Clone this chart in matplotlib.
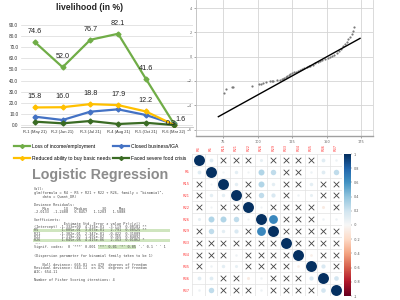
import matplotlib
matplotlib.use("Agg")
import matplotlib.pyplot as plt
from matplotlib.lines import Line2D
from matplotlib.patches import Rectangle
import numpy as np

NARROW = ['Liberation Sans', 'DejaVu Sans']
MONO = ['DejaVu Sans Mono']

# --- livelihood line chart ---
rounds = ["R-1 (May 21)", "R-2 (Jun 21)", "R-3 (Jul 21)", "R-4 (Aug 21)", "R-5 (Oct 21)", "R-6 (Mar 22)"]
loss_income = [74.6, 52.0, 76.7, 82.1, 41.6, 1.6]
closed_business = [7.5, 4.5, 12.0, 14.1, 9.0, 0.9]
basic_needs = [15.8, 16.0, 18.8, 17.9, 12.2, 0.3]
food_crisis = [3.0, 1.5, 3.6, 0.9, 2.0, 0.0]

# --- QQ plot ---
qq_x = [75.7, 77.2, 81.3, 82.5, 95.8, 101.3, 102.5, 104.2, 106.0, 109.0, 110.5, 111.5,
        114.0, 116.0, 117.5, 118.5, 119.5, 120.5, 121.5, 122.5, 123.6, 125.0, 126.5,
        128.0, 129.5, 130.8, 132.5, 134.0, 135.5, 137.0, 138.0, 140.0, 142.0, 144.0,
        145.3, 147.0, 149.0, 151.0, 152.5, 154.0, 155.5, 157.3, 159.0, 160.5, 162.2,
        163.5, 165.0, 165.8, 167.0, 168.3, 169.3, 170.2]
qq_y = [-2.97, -2.69, -2.53, -2.50, -2.39, -2.25, -2.22, -2.14, -2.10, -2.03, -2.00, -1.97,
        -1.92, -1.88, -1.86, -1.80, -1.74, -1.66, -1.58, -1.50, -1.42, -1.36, -1.30,
        -1.22, -1.15, -1.08, -1.00, -0.93, -0.86, -0.80, -0.75, -0.65, -0.55, -0.45,
        -0.39, -0.30, -0.20, -0.10, -0.03, 0.08, 0.18, 0.31, 0.45, 0.60, 0.86,
        1.05, 1.25, 1.42, 1.60, 1.83, 2.10, 2.47]
qq_line_x = [71.6, 174.3]
qq_line_y = [-4.94, 1.51]

# --- correlation matrix (None = not significant, drawn as X) ---
vars_ = ["R4", "R5", "R15", "R21", "R22", "R26", "R29", "R33", "R34", "R35", "R36", "R37"]
N = None
corr = [
    [1.0, 0.12, N, N, N, 0.08, N, N, N, N, 0.12, 0.05],
    [0.12, 1.0, 0.04, 0.10, 0.04, 0.30, 0.25, N, N, 0.05, 0.12, 0.25],
    [N, 0.04, 1.0, 0.10, N, 0.30, 0.10, N, N, 0.10, N, N],
    [N, 0.10, 0.10, 1.0, N, 0.25, 0.15, N, 0.05, 0.08, N, N],
    [N, 0.04, N, N, 1.0, 0.04, N, N, N, N, -0.08, N],
    [0.08, 0.30, 0.30, 0.25, 0.04, 1.0, 0.65, N, N, N, 0.05, 0.05],
    [N, 0.25, 0.10, 0.15, N, 0.65, 1.0, N, N, N, N, N],
    [N, N, N, N, N, N, N, 1.0, N, N, N, N],
    [N, N, N, 0.05, N, N, N, N, 1.0, -0.06, N, N],
    [N, 0.05, 0.10, 0.08, N, N, N, N, -0.06, 1.0, 0.15, N],
    [0.12, 0.12, N, N, -0.08, 0.05, N, N, N, 0.15, 1.0, 0.18],
    [0.05, 0.25, N, N, N, 0.05, N, N, N, N, 0.18, 1.0],
]

# --- R glm output ---
glm_lines = [
    "Call:",
    'glm(formula = R4 ~ R5 + R21 + R22 + R26, family = "binomial",',
    "    data = Quant_DR)",
    "",
    "Deviance Residuals:",
    "    Min       1Q   Median       3Q      Max",
    "-2.0133  -1.2408   0.8457   1.1203   1.5888",
    "",
    "Coefficients:",
    "              Estimate Std. Error z value Pr(>|z|)",
    "(Intercept) -1.333e+00  4.374e-01  -3.119  0.00181 **",
    "R5           1.005e-01  3.073e-01   2.791  0.00525 **",
    "R21         -1.302e-01  2.347e-01  -0.422  0.31089",
    "R22          1.319e-02  1.491e-02   0.365  0.84892",
    "R26          1.045e-05  4.415e-06   2.353  0.01862 *",
    "---",
    "Signif. codes:  0 '***' 0.001 '**' 0.01 '*' 0.05 '.' 0.1 ' ' 1",
    "",
    "(Dispersion parameter for binomial family taken to be 1)",
    "",
    "    Null deviance: 665.81  on 479  degrees of freedom",
    "Residual deviance: 644.11  on 475  degrees of freedom",
    "AIC: 654.11",
    "",
    "Number of Fisher Scoring iterations: 4",
]
highlight_rows = ["R5", "R26"]


def box(x0, y0, x1, y1):
    # pixel box (top-left origin) -> figure fraction
    return [x0 / 400, 1 - y1 / 300, (x1 - x0) / 400, (y1 - y0) / 300]


fig = plt.figure(figsize=(4, 3), dpi=100)
fig.patch.set_facecolor("white")

# overlay in pixel coordinates for the text panel
ov = fig.add_axes([0, 0, 1, 1], zorder=-1)
ov.set_xlim(0, 400)
ov.set_ylim(300, 0)
ov.axis("off")

# ---------------- line chart ----------------
ax = fig.add_axes(box(21, 25, 193, 127))
x = np.arange(len(rounds))
series = [
    (loss_income, "#70AD47", "Loss of income/employment"),
    (closed_business, "#4472C4", "Closed business/IGA"),
    (basic_needs, "#FFC000", "Reduced ability to buy basic needs"),
    (food_crisis, "#3A6B24", "Faced severe food crisis"),
]
for vals, col, lab in series:
    ax.plot(x, vals, color=col, lw=1.6, marker="D", ms=2.5, zorder=3)
ax.set_xlim(-0.5, 5.7)
ax.set_ylim(-1.8, 90)
ax.set_yticks(np.arange(0, 91, 10))
ax.set_yticklabels([f"{v:.1f}" for v in range(0, 91, 10)])
ax.set_xticks(x)
ax.set_xticklabels(rounds)
ax.tick_params(length=0, labelsize=3.4, colors="#333333", pad=2)
ax.tick_params(axis="x", labelsize=2.9)
for t in ax.get_xticklabels() + ax.get_yticklabels():
    t.set_family(NARROW)
ax.grid(axis="y", color="#d9d9d9", lw=0.5)
ax.set_axisbelow(True)
for s in ["top", "right", "left"]:
    ax.spines[s].set_visible(False)
ax.spines["bottom"].set_color("#bfbfbf")
ax.spines["bottom"].set_linewidth(0.6)

for i, v in enumerate(loss_income):
    off = (0, 5) if i < 5 else (5, 0)
    ax.annotate(f"{v:.1f}", (i, v), xytext=off, textcoords="offset points",
                ha="center", va="bottom", fontsize=5.2, family=NARROW, color="#222222")
for i, v in enumerate(basic_needs):
    off = (0, 5) if i < 5 else (-2, -2)
    ax.annotate(f"{v:.1f}", (i, v), xytext=off, textcoords="offset points",
                ha="center", va="bottom", fontsize=5.2, family=NARROW, color="#222222")

fig.text(89 / 400, 1 - 7 / 300, "livelihood (in %)", ha="center", va="center",
         fontsize=6.2, fontweight="bold", family=NARROW, color="#222222")

handles = [Line2D([], [], color=c, lw=1.6, marker="D", ms=2) for _, c, _ in series]
labels = [lab for _, _, lab in series]
order = [0, 2, 1, 3]
fig.legend([handles[k] for k in order], [labels[k] for k in order], ncol=2,
           loc="upper left", bbox_to_anchor=(14 / 400, 1 - 144 / 300), frameon=False,
           prop={"family": NARROW, "size": 3.6}, handlelength=3.2, handletextpad=0.3,
           columnspacing=0.6, labelspacing=1.4, borderaxespad=0, borderpad=0)

# ---------------- QQ plot ----------------
aq = fig.add_axes(box(196, 0, 373, 136))
aq.scatter(qq_x, qq_y, s=2.5, color="#7a7a7a", zorder=3, linewidths=0)
aq.plot(qq_line_x, qq_line_y, color="black", lw=1.0, zorder=4)
aq.set_xlim(55.4, 183.7)
aq.set_ylim(-6.53, 4.67)
aq.set_xticks([75, 100, 125, 150, 175])
aq.set_yticks([-6, -4, -2, 0, 2, 4])
aq.tick_params(labelsize=2.5, colors="#666666", length=1.5, width=0.4, pad=1.5)
aq.grid(color="#d4d4d4", lw=0.6)
aq.set_axisbelow(True)
aq.spines["top"].set_visible(False)
aq.spines["right"].set_color("#d4d4d4")
aq.spines["left"].set_color("#bdbdbd")
aq.spines["bottom"].set_color("#a0a0a0")
aq.spines["bottom"].set_linewidth(1.0)
for s in ["left", "right"]:
    aq.spines[s].set_linewidth(0.6)

# ---------------- correlation plot ----------------
ac = fig.add_axes(box(192.3, 154, 342, 296))
n = len(vars_)
cmap = plt.get_cmap("RdBu")
for r in range(n):
    for c in range(n):
        v = corr[r][c]
        if v is None:
            ac.scatter(c, r, marker="x", s=16, color="#444444", linewidths=0.6, zorder=3)
        else:
            ac.scatter(c, r, s=62 * abs(v), color=cmap(0.5 + 0.5 * v), linewidths=0, zorder=3)
ac.set_xlim(-0.5, n - 0.5)
ac.set_ylim(n - 0.5, -0.5)
ac.set_xticks(np.arange(n) - 0.5, minor=True)
ac.set_yticks(np.arange(n) - 0.5, minor=True)
ac.grid(which="minor", color="#e2e2e2", lw=0.5)
ac.set_xticks(np.arange(n))
ac.set_xticklabels(vars_, rotation=90)
ac.set_yticks(np.arange(n))
ac.set_yticklabels([""] + vars_[1:])
ac.xaxis.tick_top()
ac.tick_params(which="both", length=0, labelsize=2.6, colors="#ff4040", pad=2)
for s in ac.spines.values():
    s.set_visible(False)

acb = fig.add_axes(box(344, 154, 350.5, 296))
grad = np.linspace(1, -1, 200).reshape(-1, 1)
acb.imshow(grad, cmap="RdBu", vmin=-1, vmax=1, aspect="auto", extent=[0, 1, -1, 1])
acb.set_xticks([])
ticks = np.round(np.arange(-1, 1.01, 0.2), 1)
acb.set_yticks(ticks)
acb.set_yticklabels([f"{t:g}" for t in ticks])
acb.yaxis.tick_right()
acb.tick_params(labelsize=2.4, colors="#555555", length=1, width=0.3, pad=1.5)
for s in acb.spines.values():
    s.set_visible(False)

# ---------------- logistic regression text ----------------
ov.text(100.5, 175, "Logistic Regression", ha="center", va="center", fontsize=10.3,
        fontweight="bold", family=NARROW, color="#8c8c8c")

y = 189.3
char_w = 2.13
for line in glm_lines:
    if line == "":
        y += 5.5
        continue
    name = line.split(" ")[0]
    if name in highlight_rows:
        ov.add_patch(Rectangle((33, y - 1.7), 137, 3.4, color="#cfe5bf", lw=0))
    if line.startswith("Signif"):
        ov.add_patch(Rectangle((34 + 30 * char_w, y - 1.7), 18 * char_w, 3.4,
                               color="#cfe5bf", lw=0))
    ov.text(34, y, line, ha="left", va="center", fontsize=2.55, family=MONO,
            color="#4a4a4a")
    y += 3.35

fig.savefig("out.png", dpi=100, facecolor="white")
